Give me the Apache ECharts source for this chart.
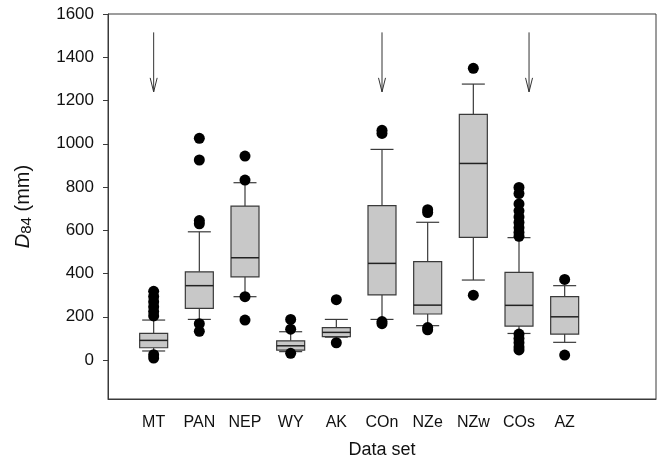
<!DOCTYPE html>
<html style="height: 100%">

<head>
    <meta charset="UTF-8" />
    <script type="text/javascript" src="https://cdn.jsdelivr.net/npm/echarts@6.0.0/dist/echarts.min.js"></script>
</head>

<body style="height: 100%; margin: 0; background: #fff">
    <div id="container" style="width: 659px; height: 468px"></div>
    <script>
        // data sets, box statistics (mm)
        var categories = ['MT', 'PAN', 'NEP', 'WY', 'AK', 'COn', 'NZe', 'NZw', 'COs', 'AZ'];
        var whiskerLow = [42, 188, 293, 39, 106, 188, 159, 370, 123, 82];
        var q1 = [57, 239, 385, 46, 108, 301, 213, 567, 157, 120];
        var median = [91, 344, 473, 66, 128, 447, 254, 909, 253, 200];
        var q3 = [123, 408, 712, 89, 150, 714, 455, 1136, 405, 293];
        var whiskerHigh = [185, 593, 820, 131, 188, 974, 637, 1276, 566, 344];
        var outliers = [
            [318, 294, 270, 247, 224, 204, 25, 9],
            [1025, 925, 645, 630, 168, 133],
            [943, 832, 293, 185],
            [188, 143, 31],
            [279, 80],
            [1062, 1048, 178, 168],
            [695, 682, 150, 140],
            [1349, 300],
            [798, 770, 722, 690, 662, 636, 612, 590, 572, 120, 100, 80, 60, 47],
            [373, 23]
        ];
        // arrows: x position in category units, from top value to tip value
        var arrowX = [1, 6, 9.22];
        var arrowTop = 1515;
        var arrowTip = 1240;
        var yTicks = [0, 200, 400, 600, 800, 1000, 1200, 1400, 1600];

        var boxData = categories.map(function (c, i) {
            return [i + 1, whiskerLow[i], q1[i], median[i], q3[i], whiskerHigh[i]];
        });
        var outlierData = [];
        outliers.forEach(function (list, i) {
            list.forEach(function (v) { outlierData.push([i + 1, v]); });
        });
        var arrowData = arrowX.map(function (x) { return [x, arrowTop, arrowTip]; });

        var chart = echarts.init(document.getElementById('container'));
        var font = 'Liberation Sans, Arial, sans-serif';
        var lineCol = '#3a3a3a';

        function renderBox(params, api) {
            var x = api.value(0);
            var pLow = api.coord([x, api.value(1)]);
            var pQ1 = api.coord([x, api.value(2)]);
            var pMed = api.coord([x, api.value(3)]);
            var pQ3 = api.coord([x, api.value(4)]);
            var pHigh = api.coord([x, api.value(5)]);
            var cx = pMed[0];
            var hw = 14, cw = 11.5;
            var st = { stroke: lineCol, lineWidth: 1.2, fill: null };
            return {
                type: 'group',
                children: [
                    { type: 'line', shape: { x1: cx, y1: pQ3[1], x2: cx, y2: pHigh[1] }, style: st },
                    { type: 'line', shape: { x1: cx, y1: pQ1[1], x2: cx, y2: pLow[1] }, style: st },
                    { type: 'line', shape: { x1: cx - cw, y1: pHigh[1], x2: cx + cw, y2: pHigh[1] }, style: st },
                    { type: 'line', shape: { x1: cx - cw, y1: pLow[1], x2: cx + cw, y2: pLow[1] }, style: st },
                    {
                        type: 'rect',
                        shape: { x: cx - hw, y: pQ3[1], width: hw * 2, height: pQ1[1] - pQ3[1] },
                        style: { fill: '#c8c8c8', stroke: lineCol, lineWidth: 1.2 }
                    },
                    { type: 'line', shape: { x1: cx - hw, y1: pMed[1], x2: cx + hw, y2: pMed[1] }, style: { stroke: '#222', lineWidth: 1.5 } }
                ]
            };
        }

        function renderArrow(params, api) {
            var x = api.value(0);
            var top = api.coord([x, api.value(1)]);
            var tip = api.coord([x, api.value(2)]);
            var st = { stroke: '#333', lineWidth: 1, fill: null };
            return {
                type: 'group',
                children: [
                    { type: 'line', shape: { x1: top[0], y1: top[1], x2: tip[0], y2: tip[1] }, style: st },
                    { type: 'polyline', shape: { points: [[tip[0] - 3.5, tip[1] - 14], [tip[0], tip[1]], [tip[0] + 3.5, tip[1] - 14]] }, style: st }
                ]
            };
        }

        var option = {
            animation: false,
            backgroundColor: '#fff',
            textStyle: { fontFamily: font, color: '#111' },
            grid: {
                left: 108, right: 3, top: 14, bottom: 69,
                show: true, borderColor: lineCol, borderWidth: 1
            },
            xAxis: {
                type: 'value', min: 0, max: 12,
                name: 'Data set', nameLocation: 'middle', nameGap: 42,
                nameTextStyle: { fontSize: 18, color: '#111', fontFamily: font },
                axisLine: { show: true, onZero: false, lineStyle: { color: lineCol } },
                axisTick: { show: false },
                splitLine: { show: false },
                axisLabel: {
                    customValues: categories.map(function (c, i) { return i + 1; }),
                    formatter: function (v) { return categories[Math.round(v) - 1] || ''; },
                    fontSize: 16, color: '#111', margin: 16, fontFamily: font
                }
            },
            yAxis: {
                type: 'value', min: -180, max: 1600,
                name: '{i|D}{s|84} (mm)', nameLocation: 'middle', nameGap: 74,
                nameTextStyle: {
                    fontSize: 20, color: '#111', fontFamily: font,
                    rich: {
                        i: { fontSize: 20, fontStyle: 'italic', fontFamily: font, color: '#111' },
                        s: { fontSize: 15, fontFamily: font, color: '#111', verticalAlign: 'bottom', padding: [7, 0, 0, 0] }
                    }
                },
                axisLine: { show: true, lineStyle: { color: lineCol } },
                axisTick: { show: true, inside: false, length: 5, customValues: yTicks, lineStyle: { color: lineCol } },
                splitLine: { show: false },
                axisLabel: {
                    customValues: yTicks,
                    formatter: function (v) { return String(v); },
                    fontSize: 17, color: '#111', margin: 14, fontFamily: font
                }
            },
            series: [
                {
                    type: 'custom',
                    renderItem: renderBox,
                    data: boxData,
                    encode: { x: 0, y: [1, 2, 3, 4, 5] },
                    z: 2
                },
                {
                    type: 'scatter',
                    data: outlierData,
                    symbol: 'circle',
                    symbolSize: 11,
                    itemStyle: { color: '#000', opacity: 1 },
                    z: 3
                },
                {
                    type: 'custom',
                    renderItem: renderArrow,
                    data: arrowData,
                    encode: { x: 0, y: [1, 2] },
                    z: 4
                }
            ]
        };
        chart.setOption(option);
    </script>
</body>

</html>
